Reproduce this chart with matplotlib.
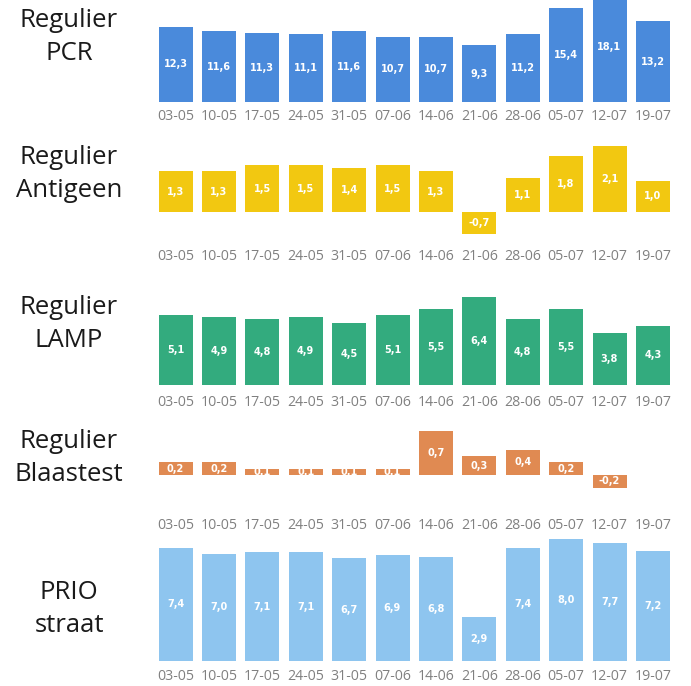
import matplotlib
matplotlib.use("Agg")
import matplotlib.pyplot as plt

weeks = ["03-05", "10-05", "17-05", "24-05", "31-05", "07-06", "14-06",
         "21-06", "28-06", "05-07", "12-07", "19-07"]

pcr = [12.3, 11.6, 11.3, 11.1, 11.6, 10.7, 10.7, 9.3, 11.2, 15.4, 18.1, 13.2]
antigeen = [1.3, 1.3, 1.5, 1.5, 1.4, 1.5, 1.3, -0.7, 1.1, 1.8, 2.1, 1.0]
lamp = [5.1, 4.9, 4.8, 4.9, 4.5, 5.1, 5.5, 6.4, 4.8, 5.5, 3.8, 4.3]
blaastest = [0.2, 0.2, 0.1, 0.1, 0.1, 0.1, 0.7, 0.3, 0.4, 0.2, -0.2, None]
prio = [7.4, 7.0, 7.1, 7.1, 6.7, 6.9, 6.8, 2.9, 7.4, 8.0, 7.7, 7.2]

row_labels = ["Regulier\nPCR", "Regulier\nAntigeen", "Regulier\nLAMP",
              "Regulier\nBlaastest", "PRIO\nstraat"]
series = [pcr, antigeen, lamp, blaastest, prio]
colors = ["#4A8ADB", "#F2C811", "#33AB7E", "#E08A52", "#8EC5EF"]

# layout in pixels: (top, baseline, px per unit, tick label center y, row label y)
layout = [
    (0, 102, 6.1, 117, 37),
    (140, 212, 31.2, 257, 174),
    (290, 385, 13.8, 403, 324),
    (420, 475, 63.0, 526, 458),
    (530, 661, 15.3, 677, 609),
]

W, H = 691, 686
fig = plt.figure(figsize=(W / 100, H / 100), dpi=100)
fig.patch.set_facecolor("white")

c0, pitch = 175.5, 43.4
x_left_px, x_right_px = 150, 691

for k, (vals, col, lab) in enumerate(zip(series, colors, row_labels)):
    top, base, s, ly, rly = layout[k]
    bottom = ly - 11
    ax = fig.add_axes([x_left_px / W, 1 - bottom / H,
                       (x_right_px - x_left_px) / W, (bottom - top) / H])
    ax.set_ylim(-(bottom - base) / s, (base - top) / s)
    ax.set_xlim((x_left_px - c0) / pitch, (x_right_px - c0) / pitch)
    xs = list(range(len(weeks)))
    hv = [v if v is not None else 0 for v in vals]
    ax.bar(xs, hv, width=34 / pitch, color=col, zorder=2)
    for x, v in zip(xs, vals):
        if v is None:
            continue
        ax.text(x, v / 2, f"{v:.1f}".replace(".", ","), ha="center", va="center",
                color="white", fontsize=7, fontweight="bold",
                family="DejaVu Sans", zorder=3, clip_on=True)
    ax.set_xticks(xs)
    ax.set_xticklabels(weeks, fontsize=10.2, color="#808080", family="Open Sans")
    ax.tick_params(axis="x", length=0, pad=2)
    ax.set_yticks([])
    for sp in ax.spines.values():
        sp.set_visible(False)
    ax.patch.set_alpha(0)
    fig.text(69 / W, 1 - rly / H, lab, ha="center", va="center",
             fontsize=18.5, family="Open Sans", color="#1a1a1a", linespacing=1.45)

fig.savefig("out.png", dpi=100, facecolor="white")
